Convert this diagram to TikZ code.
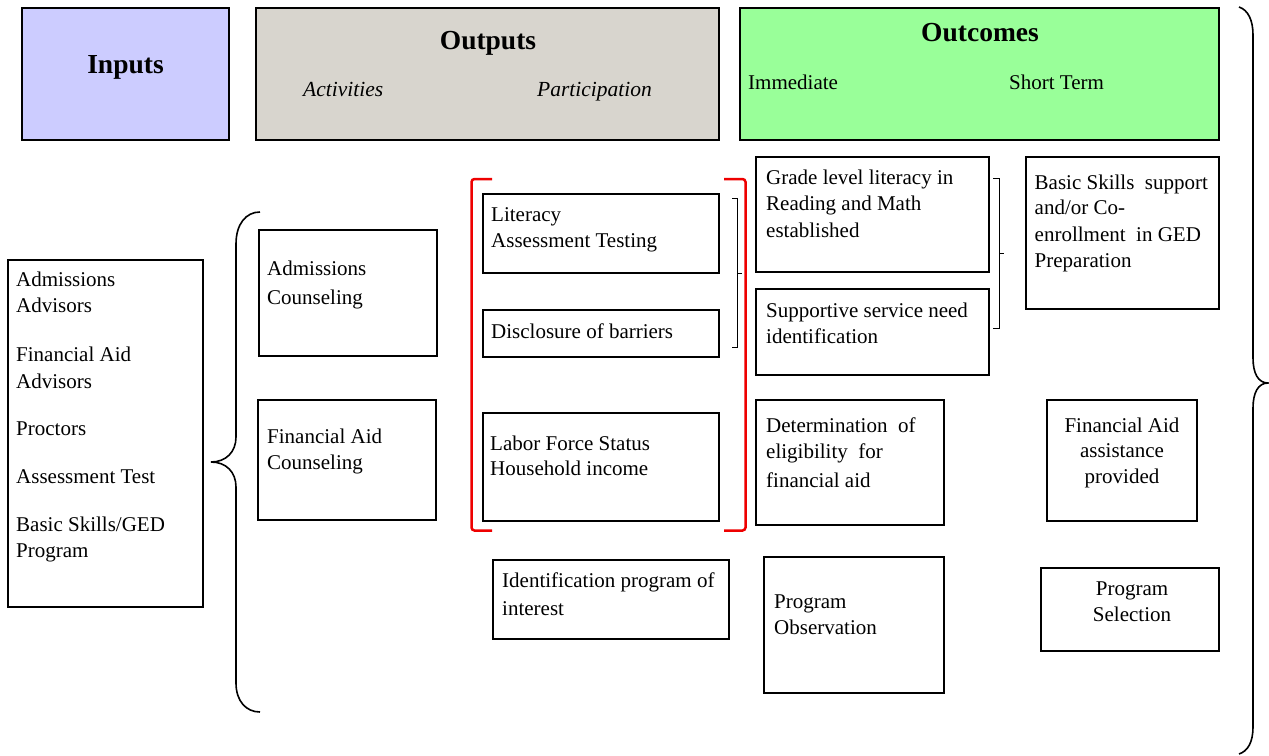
\documentclass[tikz,border=0pt]{standalone}
\usepackage{fontspec}
\setmainfont{Liberation Serif}
\usetikzlibrary{fit}
\definecolor{inC}{HTML}{CCCCFF}
\definecolor{outC}{HTML}{D8D5CE}
\definecolor{ocC}{HTML}{99FF99}
\definecolor{redB}{HTML}{EE0000}
\newcommand\mlL[1]{\begin{tabular}[t]{@{}l@{}}#1\end{tabular}}
\newcommand\mlC[1]{\begin{tabular}[t]{@{}c@{}}#1\end{tabular}}
\begin{document}
\begin{tikzpicture}[x=1pt,y=-1pt,
 box/.style={draw, line width=1.8pt, inner sep=0pt, outer sep=0pt},
 txt/.style={inner sep=0pt, anchor=base west, font=\fontsize{21}{26.5}\selectfont},
 ctxt/.style={txt, anchor=base},
 head/.style={inner sep=0pt, anchor=base, font=\fontsize{27.5}{33}\selectfont\bfseries},
 sub/.style={inner sep=0pt, anchor=base west, font=\fontsize{21.5}{26}\selectfont\itshape},
 brace/.style={line width=1.6pt},
 bracket/.style={line width=1pt},
 redbracket/.style={draw=redB, line width=2.5pt, rounded corners=3pt}]
\useasboundingbox (0,0) rectangle (1269,755);

% header boxes
\node[box, fill=inC, fit={(22,8) (229,140)}] (inH) {};
\node[box, fill=outC, fit={(256,8) (719,140)}] (outH) {};
\node[box, fill=ocC, fit={(740,8) (1219,140)}] (ocH) {};
\node[head] (inHt) at (125.5,73) {Inputs};
\node[head] (outHt) at (488,49) {Outputs};
\node[sub] (act) at (303,96) {Activities};
\node[sub] (part) at (537,96) {Participation};
\node[head] (ocHt) at (980,41) {Outcomes};
\node[txt] (imm) at (748,89) {Immediate};
\node[txt] (st) at (1009,89) {Short Term};

% inputs list
\node[box, fit={(8,260) (203,607)}] (inlist) {};
\node[txt] (inlistt) at (16,286) {\mlL{Admissions\\Advisors\\[22.5pt]Financial Aid\\Advisors\\[20.5pt]Proctors\\[21.5pt]Assessment Test\\[21.5pt]Basic Skills/GED\\Program}};

% activities
\node[box, fit={(259,230) (437,356)}] (admc) {};
\node[txt] (admct) at (267,275) {\mlL{Admissions\\[2.5pt]Counseling}};
\node[box, fit={(258,400) (436,520)}] (fac) {};
\node[txt] (fact) at (267,443) {\mlL{Financial Aid\\Counseling}};

% participation
\node[box, fit={(483,194) (719,273)}] (lit) {};
\node[txt] (litt) at (491,221) {\mlL{Literacy\\Assessment Testing}};
\node[box, fit={(483,310) (719,357)}] (disc) {};
\node[txt] (disct) at (491,338) {Disclosure of barriers};
\node[box, fit={(483,413) (719,521)}] (labor) {};
\node[txt] (labort) at (490,450) {\mlL{Labor Force Status\\[-1.5pt]Household income}};
\node[box, fit={(493,560) (729,639)}] (ident) {};
\node[txt] (identt) at (502,587) {\mlL{Identification program of\\[1.5pt]interest}};

% immediate outcomes
\node[box, fit={(756,157) (989,272)}] (grade) {};
\node[txt] (gradet) at (766,184) {\mlL{Grade level literacy in\\Reading and Math\\established}};
\node[box, fit={(756,289) (989,375)}] (supp) {};
\node[txt] (suppt) at (766,317) {\mlL{Supportive service need\\identification}};
\node[box, fit={(756,400) (944,525)}] (determ) {};
\node[txt] (determt) at (766,432) {\mlL{Determination\ \ of\\eligibility\ \ for\\[2.5pt]financial aid}};
\node[box, fit={(764,557) (944,693)}] (progobs) {};
\node[txt] (progobst) at (774,608) {\mlL{Program\\Observation}};

% short term outcomes
\node[box, fit={(1026,157) (1219,309)}] (basic) {};
\node[txt] (basict) at (1034.5,189.5) {\mlL{Basic Skills\ \ support\\[-1.5pt]and/or Co-\\enrollment\ \ in GED\\Preparation}};
\node[box, fit={(1047,400) (1197,521)}] (faass) {};
\node[ctxt] (faasst) at (1122,432) {\mlC{Financial Aid\\[-1.5pt]assistance\\provided}};
\node[box, fit={(1041,568) (1219,651)}] (progsel) {};
\node[ctxt] (progselt) at (1132,595) {\mlC{Program\\Selection}};

% left brace
\draw[brace] (260,212) .. controls (246,212) and (236,224) .. (236,244) -- (236,437)
  .. controls (236,452) and (226,462) .. (211,462)
  .. controls (226,462) and (236,472) .. (236,487) -- (236,683)
  .. controls (236,701) and (246,712) .. (260,712);

% right brace
\draw[brace] (1239,7) .. controls (1248,10) and (1253,20) .. (1253,35) -- (1253,358)
  .. controls (1253,373) and (1258,383) .. (1268,383)
  .. controls (1258,383) and (1253,393) .. (1253,408) -- (1253,727)
  .. controls (1253,742) and (1248,751) .. (1239,754);

% red bracket
\draw[redbracket] (492,179) -| (471.5,530.5) -- (492,530.5);
\draw[redbracket] (724,179) -| (745.5,530.5) -- (724,530.5);

% small brackets
\draw[bracket] (732,198) -- (737,198) -- (737,347) -- (732,347);
\draw[bracket] (737,273) -- (742,273);
\draw[bracket] (993,178) -- (999,178) -- (999,328) -- (993,328);
\draw[bracket] (999,253) -- (1004,253);
\end{tikzpicture}
\end{document}
